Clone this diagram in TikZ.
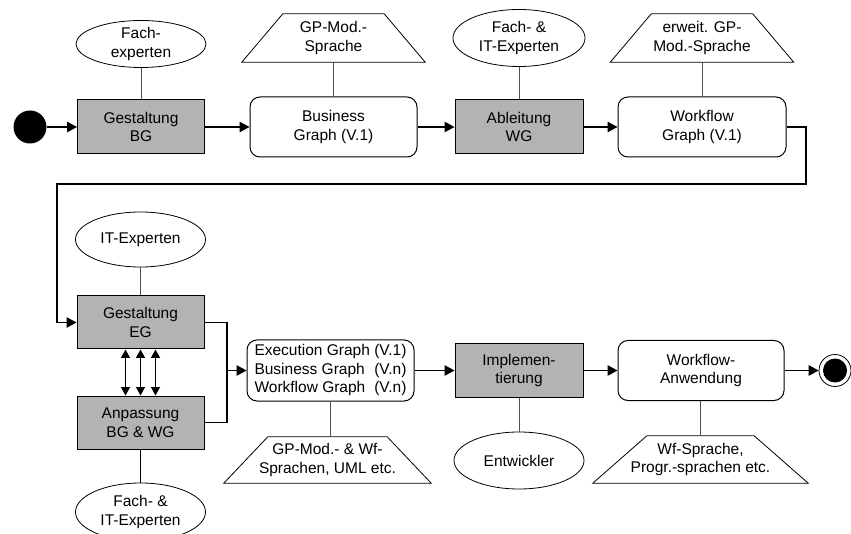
\documentclass[tikz,border=0pt]{standalone}
\usepackage{fontspec}
\setmainfont{Liberation Sans}
\usetikzlibrary{shapes.geometric,arrows.meta}
\definecolor{actgray}{RGB}{179,179,179}
\definecolor{assocgray}{RGB}{80,80,80}

% trapezoid outline around a rectangular node: #1 node name, #2 inset of the top edge
\newcommand\langoutline[2]{%
  \draw[line width=0.8pt] (#1.south west) -- (#1.south east)
    -- ([xshift=-#2pt]#1.north east) -- ([xshift=#2pt]#1.north west) -- cycle;}

\begin{document}
\begin{tikzpicture}[x=1pt,y=-1pt,
  every node/.style={font=\fontsize{15.5}{18.5}\selectfont, align=center, inner sep=0pt},
  act/.style={draw, line width=1pt, fill=actgray, minimum width=127pt, minimum height=54pt},
  obj/.style={draw, line width=1pt, rounded corners=10pt, fill=white, minimum width=167pt, minimum height=60pt},
  role/.style={draw, ellipse, line width=0.8pt, minimum width=130pt, minimum height=57pt},
  lang/.style={minimum height=48pt},
  flow/.style={line width=1.3pt, -{Triangle[length=10pt,width=10.5pt]}},
  both/.style={line width=1.3pt, {Triangle[length=8.5pt,width=9pt]}-{Triangle[length=8.5pt,width=9pt]}},
  line/.style={line width=1.3pt},
  assoc/.style={line width=0.9pt, draw=assocgray},
]
\clip (0,0) rectangle (851,534);

% ---- upper row ----
\node[circle, fill=black, minimum size=33pt] (start) at (30,127) {};
\node[act] (gbg) at (141,127) {Gestaltung\\BG};
\node[role, minimum height=47pt] (fx) at (141,44) {Fach-\\experten};
\node[obj] (bg1) at (333.5,127) {Business\\Graph (V.1)};
\node[lang, minimum width=183pt] (gpm) at (333.5,38) {GP-Mod.-\\Sprache};
\langoutline{gpm}{41}
\node[act, minimum width=128pt] (awg) at (519,127) {Ableitung\\WG};
\node[role, minimum width=132pt] (fit1) at (519,38) {Fach- \&\\IT-Experten};
\node[obj, minimum width=168pt] (wg1) at (702,127) {Workflow\\Graph (V.1)};
\node[lang, minimum width=183pt] (egp) at (702,38) {erweit. GP-\\Mod.-Sprache};
\langoutline{egp}{41}

% ---- lower row ----
\node[act, minimum height=53pt] (geg) at (140.5,322.5) {Gestaltung\\EG};
\node[role, minimum height=55pt] (ite) at (140.5,239.5) {IT-Experten};
\node[act, minimum height=53pt] (abw) at (140.5,422.5) {Anpassung\\BG \& WG};
\node[role, minimum height=58pt] (fit2) at (140.5,512) {Fach- \&\\IT-Experten};
\node[obj, minimum height=61pt] (exe) at (330.5,370.5)
  {\begin{tabular}{@{}l@{\ }r@{}}Execution Graph & (V.1)\\ Business Graph & (V.n)\\ Workflow Graph & (V.n)\end{tabular}};
\node[lang, minimum width=207pt, minimum height=46pt] (gpw) at (327.5,460) {GP-Mod.- \& Wf-\\Sprachen, UML etc.};
\langoutline{gpw}{44}
\node[act, minimum width=128pt] (imp) at (519,370.5) {Implemen-\\tierung};
\node[role] (ent) at (519,460.5) {Entwickler};
\node[obj, minimum width=166pt] (wfa) at (701,370.5) {Workflow-\\Anwendung};
\node[lang, minimum width=215pt, minimum height=47pt] (wfs) at (700.5,459.5) {Wf-Sprache,\\Progr.-sprachen etc.};
\langoutline{wfs}{54}
\node[circle, draw, line width=0.8pt, minimum size=32pt] (end) at (835,370.5) {};
\fill (end.center) circle (12);

% ---- associations ----
\draw[assoc] (fx) -- (gbg);
\draw[assoc] (gpm) -- (gpm |- bg1.north);
\draw[assoc] (fit1) -- (awg);
\draw[assoc] (egp) -- (egp |- wg1.north);
\draw[assoc] (ite) -- (geg);
\draw[line width=1.1pt] (abw) -- (fit2);
\draw[assoc] (gpw.north -| exe.south) -- (exe.south);
\draw[assoc] (ent) -- (imp);
\draw[assoc] (wfs) -- (wfs |- wfa.south);

% ---- control flow ----
\draw[flow] (start) -- (gbg);
\draw[flow] (gbg) -- (bg1);
\draw[flow] (bg1) -- (awg);
\draw[flow] (awg) -- (wg1);
\draw[flow] (wg1.east) -- (806,127) -- (806,184) -- (57,184) |- (geg.west);
\draw[line] (geg.east) -- (227,322.5) -- (227,422.5) -- (abw.east);
\coordinate (merge) at (227,370.5);
\draw[flow] (merge) -- (exe.west);
\draw[flow] (exe) -- (imp);
\draw[flow] (imp) -- (wfa);
\draw[flow] (wfa) -- (end);

% ---- iteration between EG and BG/WG ----
\foreach \dx in {-15,0,15}
  \draw[both] ([xshift=\dx pt]geg.south) -- ([xshift=\dx pt]abw.north);
\end{tikzpicture}
\end{document}
